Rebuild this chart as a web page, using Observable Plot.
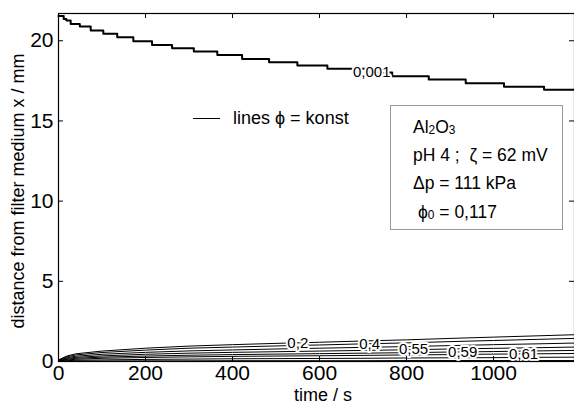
<!DOCTYPE html>
<html><head><meta charset="utf-8">
<script src="https://cdn.jsdelivr.net/npm/d3@7"></script>
<script src="https://cdn.jsdelivr.net/npm/@observablehq/plot@0.6"></script>
<style>
body{margin:0;background:#fff;}
#wrap{position:relative;width:574px;height:405px;overflow:hidden;font-family:"Liberation Sans",Arial,sans-serif;color:#000;}
.a{position:absolute;white-space:nowrap;line-height:1;}
.a sub{font-size:0.68em;line-height:0;position:relative;top:0.1em;vertical-align:baseline;}
</style></head><body><div id="wrap"></div>
<script>
// ---- data ----
// phi = 0,001 boundary (stepped)
const stepTimes  = [0,12,18,28,49,74,103,135,172,215,261,311,365,422,484,549,618,717,767,851,936,1024,1116,1186];
const stepLevels = [21.55,21.36,21.26,21.05,20.89,20.64,20.43,20.22,19.97,19.74,19.53,19.33,19.12,18.87,18.66,18.45,18.25,18.02,17.79,17.58,17.35,17.14,16.94,16.94];

// cake iso-concentration lines
const cakeTimes = [0,20,40,100,200,300,400,500,600,700,800,900,1000,1100,1186];
const cakePhi = ["0,2","0,4","0,5","0,55","0,59","0,61","0,62","0,63"];
const line1 = [0.10,0.35,0.48,0.65,0.83,0.96,1.05,1.13,1.20,1.28,1.35,1.44,1.52,1.60,1.67];
const line2 = [0.08,0.30,0.41,0.56,0.71,0.83,0.90,0.97,1.03,1.10,1.16,1.24,1.31,1.38,1.44];
const line3 = [0.06,0.24,0.33,0.45,0.57,0.66,0.72,0.78,0.83,0.88,0.93,0.99,1.05,1.10,1.15];
const line4 = [0.05,0.19,0.26,0.35,0.45,0.52,0.57,0.61,0.65,0.69,0.73,0.78,0.82,0.86,0.90];
const line5 = [0.04,0.14,0.20,0.27,0.34,0.39,0.43,0.46,0.49,0.52,0.55,0.59,0.62,0.66,0.69];
const line6 = [0.03,0.10,0.14,0.20,0.25,0.29,0.32,0.34,0.36,0.38,0.41,0.43,0.46,0.48,0.50];
const line7 = [0.02,0.05,0.08,0.10,0.13,0.15,0.17,0.18,0.19,0.20,0.22,0.23,0.24,0.26,0.27];
const line8 = [0.00,0.02,0.03,0.03,0.04,0.04,0.05,0.05,0.05,0.05,0.06,0.06,0.06,0.06,0.06];
const cakeLines = [line1,line2,line3,line4,line5,line6,line7,line8];

// contour labels
const labelText = ["0,001","0,2","0,4","0,55","0,59","0,61"];
const labelTime = [720,550,715,816,929,1069];
const labelPos  = [18.02,1.17,1.11,0.74,0.61,0.48];

// axes
const xTicks = [0,200,400,600,800,1000];
const yTicks = [0,5,10,15,20];
const xDomain = [0,1186];
const yDomain = [0,21.7];
const xTitle = "time / s";
const yTitle = "distance from filter medium x / mm";

// ---- build ----
const W=574,H=405,mL=58,mT=13,mB=44,mR=0;
const plotW=W-mL-mR, plotH=H-mT-mB;
const stepRows = stepTimes.map((t,i)=>({t, x:stepLevels[i]}));
const cakeRows = cakeLines.flatMap((vals,k)=>cakeTimes.map((t,j)=>({t, x:vals[j], phi:cakePhi[k]})));
const labels = labelText.map((s,i)=>({label:s, t:labelTime[i], x:labelPos[i]}));

const chart = Plot.plot({
  width:W, height:H, marginLeft:mL, marginTop:mT, marginBottom:mB, marginRight:mR,
  x:{domain:xDomain}, y:{domain:yDomain},
  style:{fontFamily:'"Liberation Sans",Arial,sans-serif', fontSize:"21px", background:"white", color:"black", overflow:"visible"},
  marks:[
    Plot.line(stepRows,{x:"t",y:"x",curve:"step-after",stroke:"black",strokeWidth:2}),
    Plot.line(cakeRows,{x:"t",y:"x",z:"phi",stroke:"black",strokeWidth:1}),
    Plot.text(labels,{x:"t",y:"x",text:"label",fontSize:15,fill:"black",stroke:"white",strokeWidth:4,paintOrder:"stroke"}),
    Plot.frame({stroke:"black",strokeWidth:1.2}),
    Plot.tickX(xTicks,{x:d=>d,insetTop:plotH-5,stroke:"black"}),
    Plot.tickX(xTicks,{x:d=>d,insetBottom:plotH-5,stroke:"black"}),
    Plot.tickY(yTicks,{y:d=>d,insetRight:plotW-5,stroke:"black"}),
    Plot.tickY(yTicks,{y:d=>d,insetLeft:plotW-5,stroke:"black"}),
    Plot.axisX({ticks:xTicks,tickSize:0,tickPadding:4,fontSize:21,label:null,tickFormat:d=>String(d)}),
    Plot.axisY({ticks:yTicks,tickSize:0,tickPadding:5,fontSize:21,label:null,tickFormat:d=>String(d)})
  ]
});
const wrap = document.getElementById("wrap");
chart.style.position="absolute"; chart.style.left="0"; chart.style.top="0";
wrap.appendChild(chart);

function addDiv(html, css){
  const d=document.createElement("div"); d.className="a"; d.innerHTML=html;
  Object.assign(d.style, css); wrap.appendChild(d); return d;
}
// axis titles
addDiv(xTitle,{left:"323px",top:"386px",fontSize:"18px",transform:"translateX(-50%)"});
addDiv(yTitle,{left:"18px",top:"191px",fontSize:"18px",transform:"translate(-50%,-50%) rotate(-90deg)"});
// legend entry
addDiv("",{left:"193px",top:"118px",width:"27px",height:"0",borderTop:"1px solid black"});
addDiv("lines ϕ = konst",{left:"233px",top:"109px",fontSize:"18px"});
// info box
addDiv("",{left:"390px",top:"105px",width:"173px",height:"125px",boxSizing:"border-box",border:"1px solid #999",background:"white"});
addDiv("Al<sub>2</sub>O<sub>3</sub>",{left:"413px",top:"119px",fontSize:"17.5px"});
addDiv("pH 4 ;&nbsp; ζ = 62 mV",{left:"413px",top:"147px",fontSize:"17.5px"});
addDiv("Δp = 111 kPa",{left:"413px",top:"175px",fontSize:"17.5px"});
addDiv("ϕ<sub>0</sub> = 0,117",{left:"418px",top:"204px",fontSize:"17.5px"});
</script></body></html>
